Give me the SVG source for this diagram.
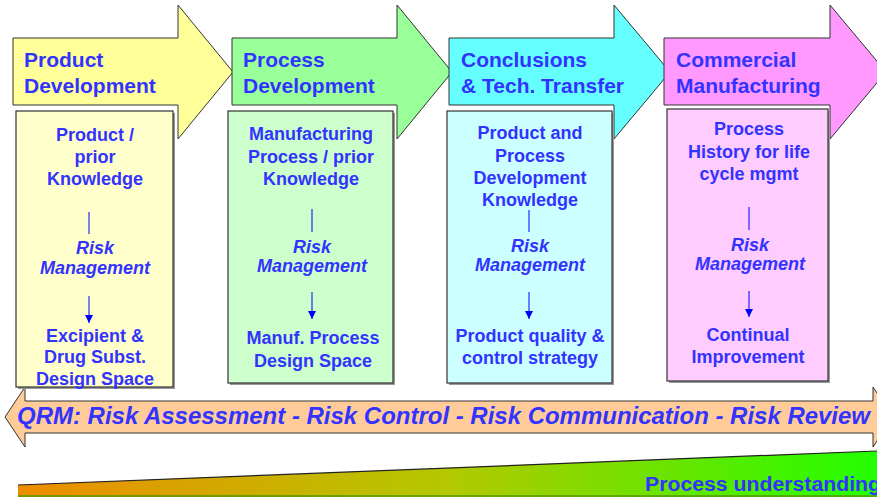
<svg xmlns="http://www.w3.org/2000/svg" width="877" height="497" viewBox="0 0 877 497">
<defs>
<linearGradient id="wedge" x1="0" y1="0" x2="1" y2="0">
<stop offset="0" stop-color="#EE8C00"/>
<stop offset="0.5" stop-color="#B4C800"/>
<stop offset="1" stop-color="#22FF00"/>
</linearGradient>
<marker id="ah" markerWidth="8" markerHeight="8" refX="8" refY="4" orient="auto" markerUnits="userSpaceOnUse" viewBox="0 0 8 8">
<path d="M0,0 L8,4 L0,8 Z" fill="#0000FF"/>
</marker>
</defs>
<style>
.arrow{stroke:#333;stroke-width:1}
.box{stroke:#333;stroke-width:1.2}
.shadow{fill:#999}
.t{font-family:"Liberation Sans",Arial,sans-serif;font-weight:bold;fill:#3333FF}
.h{font-size:21px}
.b{font-size:18px;text-anchor:middle}
.i{font-style:italic}
.ln{stroke:#0000FF;stroke-width:1}
</style>
<rect width="877" height="497" fill="#FFFFFF"/>

<g id="wedge-process-understanding">
<path d="M18,485 L877,451 L877,497 L18,497 Z" fill="url(#wedge)"/>
<path d="M18,485 L877,451" stroke="#222" stroke-width="1.2" fill="none"/>
<path d="M18,496 L877,496" stroke="#559900" stroke-width="1.5" fill="none"/>
<text class="t" x="645" y="491" font-size="20" textLength="236" lengthAdjust="spacingAndGlyphs">Process understanding</text>
</g>

<g id="qrm">
<path class="arrow" d="M5,417 L25,387 V401 H873 V387 L893,417 L873,447 V433 H25 V447 Z" fill="#FFCC99"/>
<text class="t i" x="17" y="424" font-size="23" textLength="853" lengthAdjust="spacingAndGlyphs">QRM: Risk Assessment - Risk Control - Risk Communication - Risk Review</text>
</g>

<g id="stage-product-development">
<path class="arrow" d="M13,38 H178 V5 L233,72 L178,139 V105 H13 Z" fill="#FFFF99"/>
<text class="t h" x="24" y="67">Product</text>
<text class="t h" x="24" y="93">Development</text>
</g>
<g id="stage-process-development">
<path class="arrow" d="M232,38 H397 V5 L452,72 L397,139 V105 H232 Z" fill="#99FF99"/>
<text class="t h" x="243" y="67">Process</text>
<text class="t h" x="243" y="93">Development</text>
</g>
<g id="stage-conclusions">
<path class="arrow" d="M449,38 H614 V5 L670,72 L614,139 V105 H449 Z" fill="#66FFFF"/>
<text class="t h" x="461" y="67">Conclusions</text>
<text class="t h" x="461" y="93">&amp; Tech. Transfer</text>
</g>
<g id="stage-commercial">
<path class="arrow" d="M664,38 H830 V5 L886,72 L830,139 V105 H664 Z" fill="#FF99FF"/>
<text class="t h" x="676" y="67">Commercial</text>
<text class="t h" x="676" y="93">Manufacturing</text>
</g>

<g id="box-product">
<rect class="shadow" x="18" y="113" width="157" height="276"/>
<rect class="box" x="16" y="111" width="157" height="276" fill="#FFFFCC"/>
<text class="t b" x="95" y="141">Product /</text>
<text class="t b" x="95" y="163">prior</text>
<text class="t b" x="95" y="185">Knowledge</text>
<text class="t b i" x="95" y="254">Risk</text>
<text class="t b i" x="95" y="274">Management</text>
<text class="t b" x="95" y="342">Excipient &amp;</text>
<text class="t b" x="95" y="363">Drug Subst.</text>
<text class="t b" x="95" y="385">Design Space</text>
</g>
<g id="box-process">
<rect class="shadow" x="230" y="113" width="165" height="272"/>
<rect class="box" x="228" y="111" width="165" height="272" fill="#CCFFCC"/>
<text class="t b" x="311" y="140">Manufacturing</text>
<text class="t b" x="311" y="163">Process / prior</text>
<text class="t b" x="311" y="185">Knowledge</text>
<text class="t b i" x="312" y="253">Risk</text>
<text class="t b i" x="312" y="272">Management</text>
<text class="t b" x="313" y="344">Manuf. Process</text>
<text class="t b" x="313" y="367">Design Space</text>
</g>
<g id="box-conclusions">
<rect class="shadow" x="449" y="113" width="165" height="272"/>
<rect class="box" x="447" y="111" width="165" height="272" fill="#CCFFFF"/>
<text class="t b" x="530" y="139">Product and</text>
<text class="t b" x="530" y="162">Process</text>
<text class="t b" x="530" y="184">Development</text>
<text class="t b" x="530" y="206">Knowledge</text>
<text class="t b i" x="530" y="252">Risk</text>
<text class="t b i" x="530" y="271">Management</text>
<text class="t b" x="530" y="342">Product quality &amp;</text>
<text class="t b" x="530" y="364">control strategy</text>
</g>
<g id="box-commercial">
<rect class="shadow" x="669" y="111" width="161" height="272"/>
<rect class="box" x="667" y="109" width="161" height="272" fill="#FFCCFF"/>
<text class="t b" x="749" y="135">Process</text>
<text class="t b" x="749" y="158">History for life</text>
<text class="t b" x="749" y="180">cycle mgmt</text>
<text class="t b i" x="750" y="251">Risk</text>
<text class="t b i" x="750" y="270">Management</text>
<text class="t b" x="748" y="341">Continual</text>
<text class="t b" x="748" y="363">Improvement</text>
</g>

<g id="connectors">
<line class="ln" x1="89" y1="212" x2="89" y2="234"/>
<line class="ln" x1="89" y1="296" x2="89" y2="323" marker-end="url(#ah)"/>
<line class="ln" x1="312" y1="209" x2="312" y2="232"/>
<line class="ln" x1="312" y1="292" x2="312" y2="319" marker-end="url(#ah)"/>
<line class="ln" x1="529" y1="210" x2="529" y2="232"/>
<line class="ln" x1="529" y1="292" x2="529" y2="319" marker-end="url(#ah)"/>
<line class="ln" x1="749" y1="207" x2="749" y2="230"/>
<line class="ln" x1="749" y1="291" x2="749" y2="317" marker-end="url(#ah)"/>
</g>
</svg>
